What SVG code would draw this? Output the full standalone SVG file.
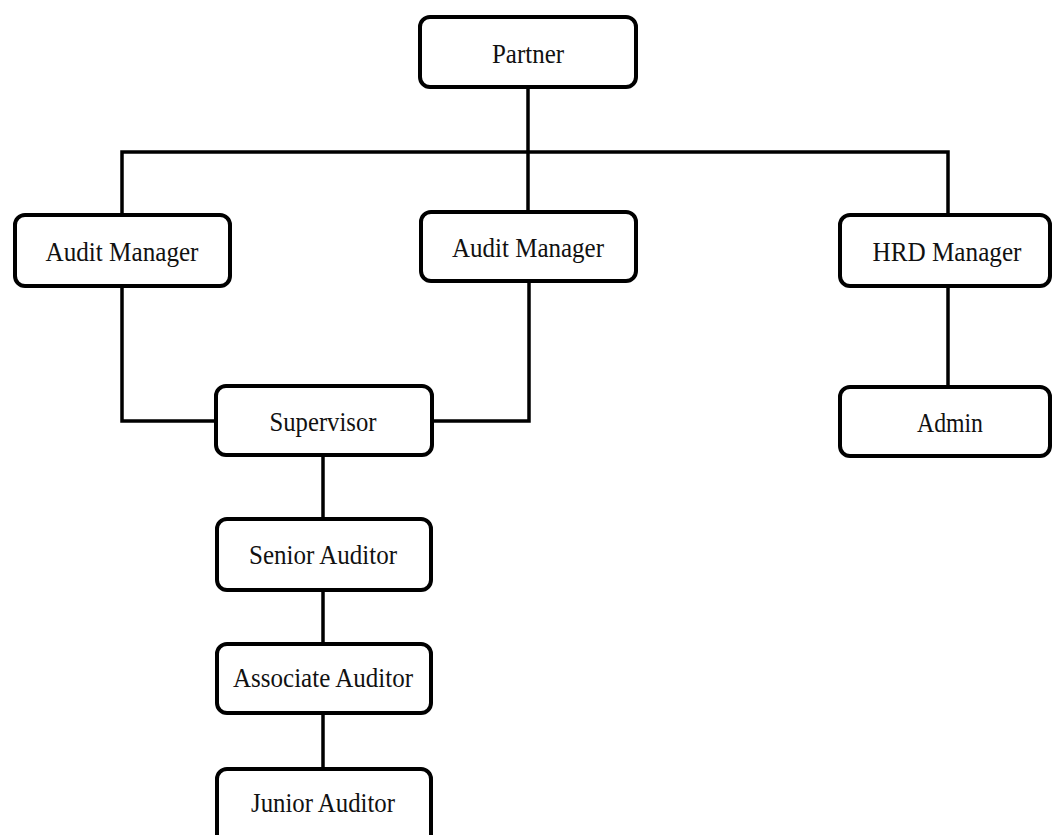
<svg xmlns="http://www.w3.org/2000/svg" width="1054" height="835" viewBox="0 0 1054 835">
<style>
.box{fill:#fff;stroke:#000;stroke-width:4}
.lbl{font-family:"Liberation Serif","Times New Roman",serif;font-size:27px;fill:#111;text-anchor:middle}
.conn{fill:none;stroke:#000;stroke-width:3.5;stroke-linejoin:miter}
</style>
<rect width="1054" height="835" fill="#fff"/>
<g id="connectors">
<path class="conn" d="M528,89 V210"/>
<path class="conn" d="M122,213 V152 H948 V213"/>
<path class="conn" d="M122,288 V421 H214"/>
<path class="conn" d="M529,283 V421 H434"/>
<path class="conn" d="M323,457 V517"/>
<path class="conn" d="M323,592 V642"/>
<path class="conn" d="M323,715 V767"/>
<path class="conn" d="M948,288 V385"/>
</g>
<g id="partner"><rect class="box" x="420" y="17" width="216" height="70" rx="10"/><text class="lbl" x="528" y="63" textLength="72" lengthAdjust="spacingAndGlyphs">Partner</text></g>
<g id="audit-manager-1"><rect class="box" x="15" y="215" width="215" height="71" rx="10"/><text class="lbl" x="122" y="261" textLength="153" lengthAdjust="spacingAndGlyphs">Audit Manager</text></g>
<g id="audit-manager-2"><rect class="box" x="421" y="212" width="215" height="69" rx="10"/><text class="lbl" x="528" y="257" textLength="152" lengthAdjust="spacingAndGlyphs">Audit Manager</text></g>
<g id="hrd-manager"><rect class="box" x="840" y="215" width="210" height="71" rx="10"/><text class="lbl" x="947" y="261" textLength="149" lengthAdjust="spacingAndGlyphs">HRD Manager</text></g>
<g id="admin"><rect class="box" x="840" y="387" width="210" height="69" rx="10"/><text class="lbl" x="950" y="432" textLength="66" lengthAdjust="spacingAndGlyphs">Admin</text></g>
<g id="supervisor"><rect class="box" x="216" y="386" width="216" height="69" rx="10"/><text class="lbl" x="323" y="431" textLength="107" lengthAdjust="spacingAndGlyphs">Supervisor</text></g>
<g id="senior-auditor"><rect class="box" x="217" y="519" width="214" height="71" rx="10"/><text class="lbl" x="323" y="564" textLength="148" lengthAdjust="spacingAndGlyphs">Senior Auditor</text></g>
<g id="associate-auditor"><rect class="box" x="217" y="644" width="214" height="69" rx="10"/><text class="lbl" x="323" y="687" textLength="180" lengthAdjust="spacingAndGlyphs">Associate Auditor</text></g>
<g id="junior-auditor"><rect class="box" x="217" y="769" width="214" height="75" rx="10"/><text class="lbl" x="323" y="812" textLength="144" lengthAdjust="spacingAndGlyphs">Junior Auditor</text></g>
</svg>
